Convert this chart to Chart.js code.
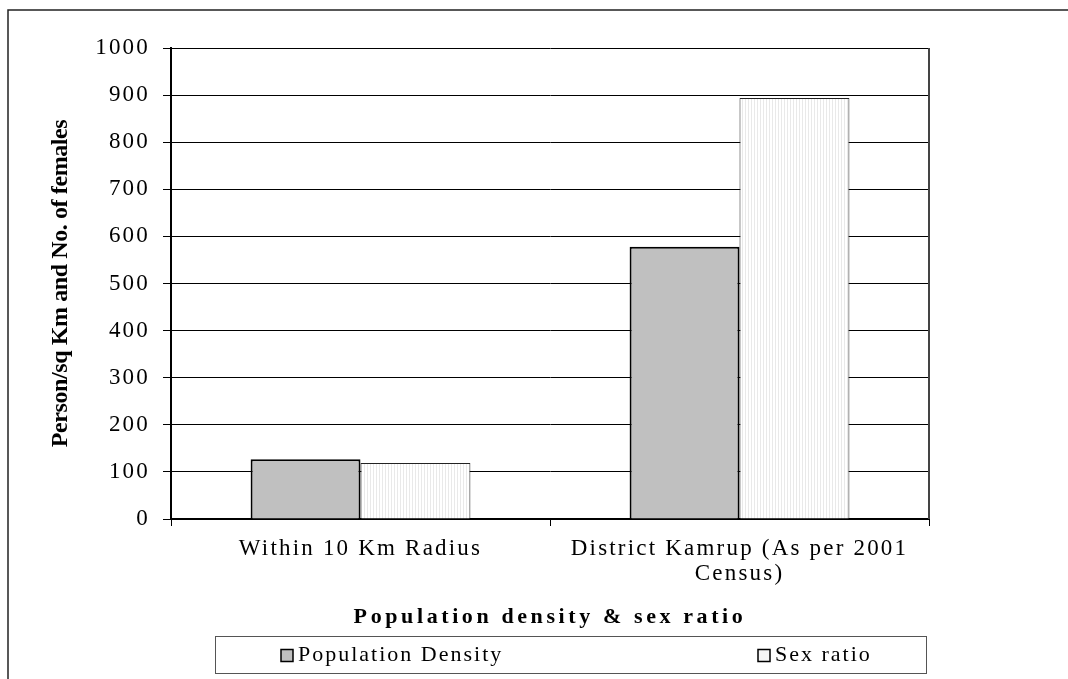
<!DOCTYPE html>
<html>
<head>
<meta charset="utf-8">
<script src="https://cdn.jsdelivr.net/npm/chart.js@4.4.1/dist/chart.umd.min.js"></script>
<style>
  html, body { margin: 0; padding: 0; background: #fff; overflow: hidden; }
</style>
</head>
<body>
<canvas id="chart" width="1068" height="679"></canvas>
<script>
// data
const categories = [['Within 10 Km Radius'], ['District Kamrup (As per 2001', 'Census)']];
const seriesNames = ['Population Density', 'Sex ratio'];
const densityValues = [127, 578];
const sexRatioValues = [119, 894];
const yMin = 0, yMax = 1000, yStep = 100;
const yTitle = 'Person/sq Km and No. of females';
const xTitle = 'Population density & sex ratio';

const SERIF = "'Liberation Serif', 'Times New Roman', serif";

// faint vertical stripes for the "Sex ratio" bars
function stripes() {
    const c = document.createElement('canvas');
    c.width = 3; c.height = 1;
    const g = c.getContext('2d');
    g.fillStyle = '#ffffff'; g.fillRect(0, 0, 3, 1);
    g.fillStyle = '#e9e9e9'; g.fillRect(1, 0, 1, 1);
    return g.createPattern(c, 'repeat');
}

// canvas letter spacing per scale part (the source text is widely tracked)
function spaced(scale, method, sp) {
    const key = '_sp_' + method;
    if (scale[key]) return;
    const orig = scale[method];
    scale[method] = function (...args) {
        const ctx = this.ctx;
        const prev = ctx.letterSpacing;
        ctx.letterSpacing = sp;
        orig.apply(this, args);
        ctx.letterSpacing = prev;
    };
    scale[key] = true;
}

const spacingPlugin = {
    id: 'spacing',
    beforeDraw(chart) {
        spaced(chart.scales.x, 'drawLabels', '2.2px');
        spaced(chart.scales.x, 'drawTitle', '3.6px');
        spaced(chart.scales.y, 'drawLabels', '2.2px');
        spaced(chart.scales.y, 'drawTitle', '-0.4px');
    }
};

// outer frame, plot border on the right, boxed legend
const framePlugin = {
    id: 'frame',
    afterDraw(chart) {
        const ctx = chart.ctx;
        const area = chart.chartArea;
        ctx.save();

        ctx.strokeStyle = '#222';
        ctx.lineWidth = 1.5;
        ctx.beginPath();
        ctx.moveTo(8, chart.height);
        ctx.lineTo(8, 10);
        ctx.lineTo(chart.width, 10);
        ctx.stroke();

        ctx.strokeStyle = '#444';
        ctx.lineWidth = 2;
        ctx.beginPath();
        ctx.moveTo(area.right, area.top);
        ctx.lineTo(area.right, area.bottom);
        ctx.stroke();

        // legend
        const top = chart.scales.x.bottom + 2;
        const left = area.left + 44;
        const right = area.right - 3;
        const h = 37;
        ctx.strokeStyle = '#555';
        ctx.lineWidth = 1;
        ctx.strokeRect(left + 0.5, top + 0.5, right - left, h);

        const offsets = [66, 543];
        const cy = top + h / 2 + 1;
        ctx.font = '22px ' + SERIF;
        ctx.letterSpacing = '2px';
        ctx.textBaseline = 'middle';
        chart.data.datasets.forEach((ds, i) => {
            const x = left + offsets[i];
            ctx.fillStyle = ds.legendFill;
            ctx.fillRect(x, cy - 6, 12, 12);
            ctx.strokeStyle = '#000';
            ctx.lineWidth = 1.5;
            ctx.strokeRect(x, cy - 6, 12, 12);
            ctx.fillStyle = '#000';
            ctx.fillText(ds.label, x + 17, cy);
        });
        ctx.restore();
    }
};

const ctx = document.getElementById('chart').getContext('2d');

new Chart(ctx, {
    type: 'bar',
    data: {
        labels: categories,
        datasets: [{
            label: seriesNames[0],
            data: densityValues,
            backgroundColor: '#c0c0c0',
            legendFill: '#c0c0c0',
            borderColor: '#000',
            borderWidth: 2
        }, {
            label: seriesNames[1],
            data: sexRatioValues,
            backgroundColor: stripes(),
            legendFill: '#f6f6f6',
            borderColor: '#222',
            borderWidth: 1
        }]
    },
    options: {
        responsive: false,
        animation: false,
        categoryPercentage: 0.58,
        barPercentage: 1.0,
        layout: { padding: { left: 40, top: 48, right: 139, bottom: 45 } },
        plugins: {
            legend: { display: false },
            tooltip: { enabled: false }
        },
        scales: {
            x: {
                afterFit(scale) { scale.height = 115; },
                grid: { drawOnChartArea: false, color: '#000', tickLength: 7, lineWidth: 1 },
                border: { color: '#000', width: 2 },
                ticks: {
                    color: '#000',
                    font: { family: SERIF, size: 23, lineHeight: 1.08 },
                    padding: 11,
                    maxRotation: 0,
                    autoSkip: false
                },
                title: {
                    display: true,
                    text: xTitle,
                    color: '#000',
                    font: { family: SERIF, size: 22, weight: 'bold', lineHeight: 1.2 },
                    padding: { top: 0, bottom: 3 }
                }
            },
            y: {
                min: yMin,
                max: yMax,
                afterFit(scale) { scale.width = 131; },
                grid: { color: '#000', lineWidth: 1, tickLength: 8 },
                border: { color: '#000', width: 2 },
                ticks: {
                    stepSize: yStep,
                    color: '#000',
                    font: { family: SERIF, size: 23 },
                    padding: 13,
                    callback: (v) => String(v)
                },
                title: {
                    display: true,
                    text: yTitle,
                    color: '#000',
                    font: { family: SERIF, size: 24, weight: 'bold', lineHeight: 1.1 },
                    padding: { top: 8, bottom: 0 }
                }
            }
        }
    },
    plugins: [spacingPlugin, framePlugin]
});
</script>
</body>
</html>
